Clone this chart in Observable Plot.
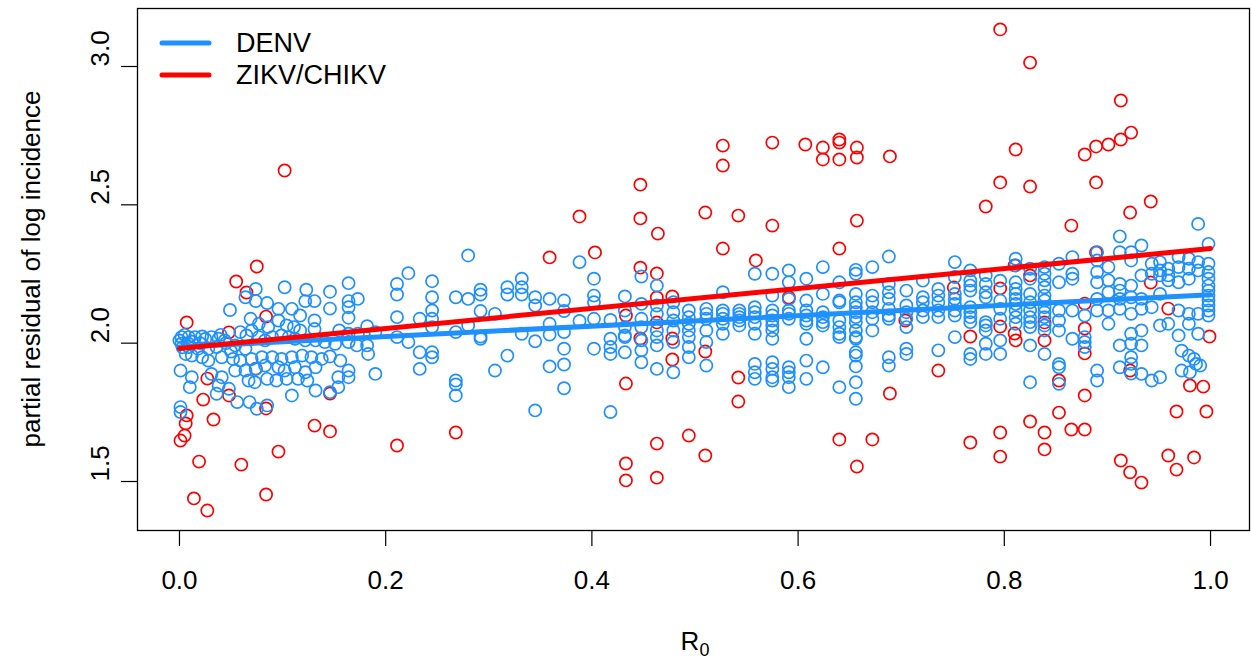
<!DOCTYPE html>
<html>
<head>
<meta charset="utf-8">
<script src="https://cdn.jsdelivr.net/npm/d3@7"></script>
<script src="https://cdn.jsdelivr.net/npm/@observablehq/plot@0.6"></script>
<style>
  html, body { margin: 0; padding: 0; background: #ffffff; }
  #chart svg { display: block; }
</style>
</head>
<body>
<div id="chart"></div>
<script>
// ---------- data ----------
// DENV scattered points (left part of the plot)
const denvScatterR0 = [
  0.102,0.123,0.146,0.164,0.173,0.074,0.064,0.074,0.085,0.122,
  0.131,0.146,0.164,0.164,0.164,0.049,0.096,0.109,0.117,0.131,
  0.131,0.069,0.077,0.086,0.096,0.104,0.111,0.117,0.155,0.164,
  0.173,0.182,0.190,0.002,0.009,0.015,0.022,0.031,0.038,0.044,
  0.059,0.065,0.070,0.077,0.083,0.090,0.099,0.106,0.112,0.122,
  0.132,0.141,0.151,0.164,0.172,0.182,0.183,0.002,0.009,0.018,
  0.028,0.036,0.054,0.064,0.006,0.012,0.022,0.028,0.041,0.052,
  0.059,0.070,0.080,0.090,0.099,0.109,0.119,0.128,0.138,0.146,
  0.156,0.001,0.012,0.031,0.041,0.054,0.064,0.074,0.083,0.096,
  0.102,0.112,0.122,0.132,0.164,0.190,0.010,0.038,0.048,0.067,
  0.073,0.085,0.094,0.104,0.115,0.124,0.154,0.164,0.036,0.056,
  0.068,0.075,0.085,0.109,0.132,0.146,0.154,0.001,0.001,
  0.000,0.005,0.012,0.020,0.025,0.003,0.008,0.040,0.045,0.050,
  0.280,0.222,0.211,0.211,0.245,0.245,0.211,0.233,0.245,0.245,
  0.245,0.222,0.211,0.233,0.245,0.245,0.233,0.268,0.280,0.292,
  0.292,0.292,0.306,0.280,0.268,0.292,0.292,0.268,0.268,0.268,
  0.318,0.318,0.332,0.332,0.332,0.345,0.345,0.359,0.373,0.373,
  0.359,0.373,0.359,0.332,0.345,0.318,0.306,0.359,0.373,0.373,
  0.373,0.345,0.388,0.388,
  0.972,0.979,0.984,0.990,0.972,0.980,0.986
];
const denvScatterResid = [
  2.202,2.193,2.186,2.217,2.160,2.196,2.166,2.152,2.145,2.152,
  2.152,2.125,2.152,2.130,2.092,2.120,2.124,2.124,2.100,2.082,
  2.051,2.088,2.070,2.058,2.082,2.064,2.058,2.046,2.046,2.034,
  2.034,2.061,2.040,2.022,2.022,2.022,2.024,2.022,2.016,2.010,
  2.040,2.028,2.046,2.022,2.010,2.022,2.028,2.022,2.016,2.010,
  2.010,2.004,1.998,2.004,1.992,1.992,1.961,1.998,1.986,1.980,
  1.980,1.986,1.992,1.980,1.961,1.955,1.949,1.937,1.949,1.943,
  1.937,1.943,1.949,1.949,1.943,1.949,1.955,1.949,1.943,1.952,
  1.937,1.901,1.877,1.889,1.877,1.901,1.901,1.907,1.919,1.913,
  1.901,1.913,1.895,1.913,1.901,1.889,1.841,1.847,1.835,1.865,
  1.859,1.871,1.865,1.871,1.871,1.865,1.877,1.877,1.817,1.787,
  1.787,1.763,1.775,1.811,1.829,1.823,1.841,1.769,1.751,
  2.010,2.030,2.005,2.000,2.015,1.985,2.000,2.030,2.000,1.970,
  2.317,2.253,2.214,2.176,2.224,2.166,2.094,2.088,2.118,2.088,
  2.058,2.004,2.022,1.967,1.967,1.949,1.907,2.166,2.160,2.193,
  2.176,2.116,2.106,2.064,2.040,2.024,2.016,1.865,1.851,1.811,
  2.202,2.176,2.233,2.202,2.176,2.166,2.136,2.160,2.154,2.116,
  2.070,2.040,2.031,2.034,2.007,1.955,1.901,1.916,1.980,1.923,
  1.837,1.757,2.293,2.080,
  1.973,1.955,1.943,1.919,1.901,1.895,1.925
];
// DENV points stacked in columns (right part of the plot)
const denvColumnR0 = [
  0.402,0.418,0.432,0.448,0.463,0.479,0.494,0.511,0.527,0.543,0.558,
  0.575,0.591,0.608,0.624,0.640,0.656,0.672,0.688,0.705,0.721,0.736,
  0.752,0.767,0.782,0.796,0.811,0.825,0.839,0.853,0.866,0.878,0.890,
  0.901,0.912,0.923,0.933,0.943,0.951,0.959,0.969,0.979,0.988,0.998
];
const denvColumnResid = [
  [2.233,2.172,2.148,2.088,1.980],
  [2.084,2.016,1.986,1.961,1.751],
  [2.169,2.118,2.058,2.028,2.022,1.967],
  [2.241,2.142,2.088,2.058,2.010,1.974,1.931],
  [2.208,2.136,2.106,2.046,2.022,1.992,1.907],
  [2.148,2.112,2.082,2.046,2.004,1.895],
  [2.118,2.094,2.070,2.046,2.022,1.986,1.949],
  [2.124,2.106,2.088,2.046,2.004,1.919],
  [2.184,2.118,2.106,2.088,2.070,2.034],
  [2.118,2.106,2.094,2.082,2.064],
  [2.251,2.130,2.112,2.094,2.070,2.034,1.925,1.895,1.871],
  [2.251,2.172,2.118,2.100,2.082,2.064,2.046,2.016,1.931,1.907,1.877,1.865],
  [2.263,2.220,2.160,2.118,2.106,2.088,1.913,1.895,1.877,1.841],
  [2.233,2.154,2.118,2.100,2.082,2.070,2.016,1.937,1.871],
  [2.275,2.178,2.112,2.094,2.076,2.064,1.913],
  [2.220,2.154,2.148,2.082,2.058,2.034,2.022,1.841],
  [2.265,2.251,2.178,2.148,2.130,2.112,2.094,2.076,2.046,2.022,2.016,1.967,1.955,1.916,1.859,1.799],
  [2.275,2.172,2.148,2.112,2.088,2.046],
  [2.313,2.214,2.184,2.160,2.124,2.100,2.088,1.949,1.919],
  [2.190,2.136,2.112,2.088,2.058,1.980,1.961],
  [2.226,2.166,2.148,2.118,2.094],
  [2.196,2.172,2.148,2.118,2.094,1.974],
  [2.293,2.239,2.178,2.160,2.142,2.118,2.100,2.022],
  [2.263,2.226,2.208,2.190,2.130,2.112,2.094,2.076,1.961,1.943],
  [2.245,2.214,2.184,2.166,2.076,2.064,2.046,1.998,1.961],
  [2.226,2.154,2.124,2.088,2.010,1.961],
  [2.305,2.281,2.220,2.196,2.178,2.160,2.142,2.118,2.094,2.070],
  [2.269,2.233,2.178,2.148,2.118,2.094,2.076,2.058,1.992,1.859],
  [2.275,2.251,2.227,2.202,2.172,2.154,2.130,2.112,2.094,2.064,2.046,1.961],
  [2.287,2.220,2.118,2.082,2.046,1.925,1.913,1.853],
  [2.311,2.251,2.233,2.118,2.016],
  [2.100,2.022,2.004,1.986],
  [2.329,2.299,2.257,2.220,2.160,2.118,1.901,1.865],
  [2.275,2.227,2.184,2.118,2.070],
  [2.386,2.329,2.214,2.190,2.160,2.124,1.992,1.913],
  [2.329,2.299,2.208,2.166,2.106,2.034,1.998,1.949,1.925,1.890],
  [2.353,2.245,2.160,2.124,2.046,1.992,1.889],
  [2.287,2.251,2.130,1.865],
  [2.293,2.263,2.245,2.178,2.064,1.877],
  [2.269,2.245,2.227,2.070],
  [2.311,2.275,2.220,2.118,2.028],
  [2.305,2.269,2.233,2.106,2.070],
  [2.431,2.293,2.263,2.106,2.034],
  [2.359,2.287,2.257,2.233,2.208,2.190,2.172,2.154,2.136,2.118,2.100]
];
// ZIKV/CHIKV points
const zikvR0 = [
  0.102,0.075,0.055,0.065,0.007,0.048,0.084,0.074,0.027,0.023,0.048,0.146,0.084,0.007,0.006,0.033,0.005,0.001,0.131,0.146,0.211,0.096,0.019,0.060,0.084,0.014,0.027,
  0.359,0.447,0.388,0.447,0.464,0.403,0.447,0.463,0.463,0.478,0.433,0.463,0.447,0.478,0.478,0.433,0.268,0.463,0.433,0.433,0.463,0.494,
  0.510,0.527,0.527,0.542,0.527,0.559,0.575,0.575,0.607,0.624,0.624,0.640,0.640,0.640,0.657,0.657,0.657,0.689,0.640,0.510,0.542,0.542,0.510,0.640,0.672,0.657,0.689,0.736,0.704,0.591,0.751,0.782,
  0.796,0.825,0.913,0.923,0.913,0.901,0.889,0.878,0.811,0.796,0.825,0.889,0.942,0.922,0.865,0.889,0.942,0.796,0.810,0.825,0.959,0.878,0.796,0.810,0.811,0.839,0.839,0.878,0.878,0.767,0.767,0.796,0.796,0.825,0.839,0.839,0.853,0.865,0.878,0.878,0.853,0.980,0.993,0.967,0.996,0.999,0.913,0.922,0.933,0.959,0.967,0.984,0.922
];
const zikvResid = [
  2.624,2.277,2.223,2.183,2.075,2.039,2.096,1.908,1.872,1.796,1.811,1.818,1.764,1.739,1.710,1.724,1.666,1.648,1.702,1.681,1.630,1.608,1.572,1.561,1.453,1.439,1.395,
  2.310,2.573,2.458,2.451,2.396,2.328,2.273,2.252,2.165,2.169,2.100,2.075,2.017,2.017,1.941,1.854,1.677,1.637,1.565,1.504,1.514,1.666,
  2.472,2.714,2.642,2.461,2.342,2.299,2.725,2.425,2.718,2.707,2.664,2.736,2.725,2.664,2.707,2.671,2.443,2.675,2.342,1.970,1.876,1.789,1.594,1.652,1.652,1.554,1.818,1.901,2.082,2.165,2.201,2.494,
  3.134,3.014,2.877,2.761,2.736,2.718,2.711,2.682,2.700,2.581,2.566,2.581,2.512,2.472,2.425,2.328,2.219,2.198,2.281,2.245,2.125,2.143,2.060,2.035,2.010,2.010,2.075,2.053,1.963,2.024,1.641,1.677,1.590,1.717,1.677,1.616,1.749,1.688,1.688,1.811,1.865,1.847,1.843,1.753,1.753,2.024,1.576,1.533,1.496,1.594,1.543,1.587,1.901
];
// fitted lines (end points at R0 = 0 and R0 = 1)
const fitR0 = [0, 1];
const denvFit = [1.986, 2.175];
const zikvFit = [1.981, 2.342];
// axes
const xTicks = [0, 0.2, 0.4, 0.6, 0.8, 1.0];
const yTicks = [1.5, 2.0, 2.5, 3.0];
const seriesNames = ["DENV", "ZIKV/CHIKV"];
const seriesColors = ["#1E90FF", "#FF0000"];
const yTitle = "partial residual of log incidence";

// ---------- tables ----------
const denv = denvScatterR0.map((x, i) => ({x, y: denvScatterResid[i]}));
denvColumnR0.forEach((x, j) => denvColumnResid[j].forEach(y => denv.push({x, y})));
const zikv = zikvR0.map((x, i) => ({x, y: zikvResid[i]}));
const denvLine = fitR0.map((x, i) => ({x, y: denvFit[i]}));
const zikvLine = fitR0.map((x, i) => ({x, y: zikvFit[i]}));

const FONT = "'Liberation Sans', Arial, Helvetica, sans-serif";

const plot = Plot.plot({
  width: 1251,
  height: 662,
  marginLeft: 137,
  marginRight: 2,
  marginTop: 8,
  marginBottom: 132,
  x: {domain: [-0.0407, 1.0378]},
  y: {domain: [1.3229, 3.2096]},
  style: {fontFamily: FONT, fontSize: "26px", background: "#ffffff", color: "#000000"},
  marks: [
    Plot.dot(zikv, {x: "x", y: "y", r: 6.1, stroke: seriesColors[1], strokeWidth: 1.7, fill: "none"}),
    Plot.dot(denv, {x: "x", y: "y", r: 6.1, stroke: seriesColors[0], strokeWidth: 1.7, fill: "none"}),
    Plot.line(denvLine, {x: "x", y: "y", stroke: seriesColors[0], strokeWidth: 5}),
    Plot.line(zikvLine, {x: "x", y: "y", stroke: seriesColors[1], strokeWidth: 5}),
    Plot.frame({stroke: "#000000", strokeWidth: 1.3}),
    Plot.axisX({ticks: xTicks, tickSize: 16, tickPadding: 24, tickFormat: d3.format(".1f"),
                label: null, fontSize: 26, stroke: "#000000", strokeWidth: 1.2}),
    Plot.axisY({ticks: yTicks, tickSize: 16, tickFormat: () => "", label: null,
                stroke: "#000000", strokeWidth: 1.2}),
    Plot.text(yTicks, {y: d => d, text: d => d.toFixed(1), frameAnchor: "left", dx: -37,
                       rotate: -90, fontSize: 26, fill: "#000000"})
  ]
});

document.getElementById("chart").appendChild(plot);

// legend, axis titles (real text)
const svg = d3.select(plot);
const legend = svg.append("g").attr("font-family", FONT).attr("font-size", 27);
seriesNames.forEach((name, i) => {
  const yy = 43 + 32 * i;
  legend.append("line")
    .attr("x1", 162).attr("x2", 209).attr("y1", yy).attr("y2", yy)
    .attr("stroke", seriesColors[i]).attr("stroke-width", 5).attr("stroke-linecap", "round");
  legend.append("text")
    .attr("x", 236).attr("y", yy).attr("dy", "0.35em")
    .attr("text-anchor", "start").attr("fill", "#000").text(name);
});
const xt = svg.append("text")
  .attr("x", 695).attr("y", 650).attr("text-anchor", "middle")
  .attr("font-family", FONT).attr("font-size", 26).attr("fill", "#000");
xt.append("tspan").text("R");
xt.append("tspan").attr("font-size", 18).attr("dy", 6).text("0");
svg.append("text")
  .attr("transform", "translate(31,269) rotate(-90)")
  .attr("text-anchor", "middle").attr("dy", "0.35em")
  .attr("font-family", FONT).attr("font-size", 26).attr("fill", "#000")
  .text(yTitle);
</script>
</body>
</html>
